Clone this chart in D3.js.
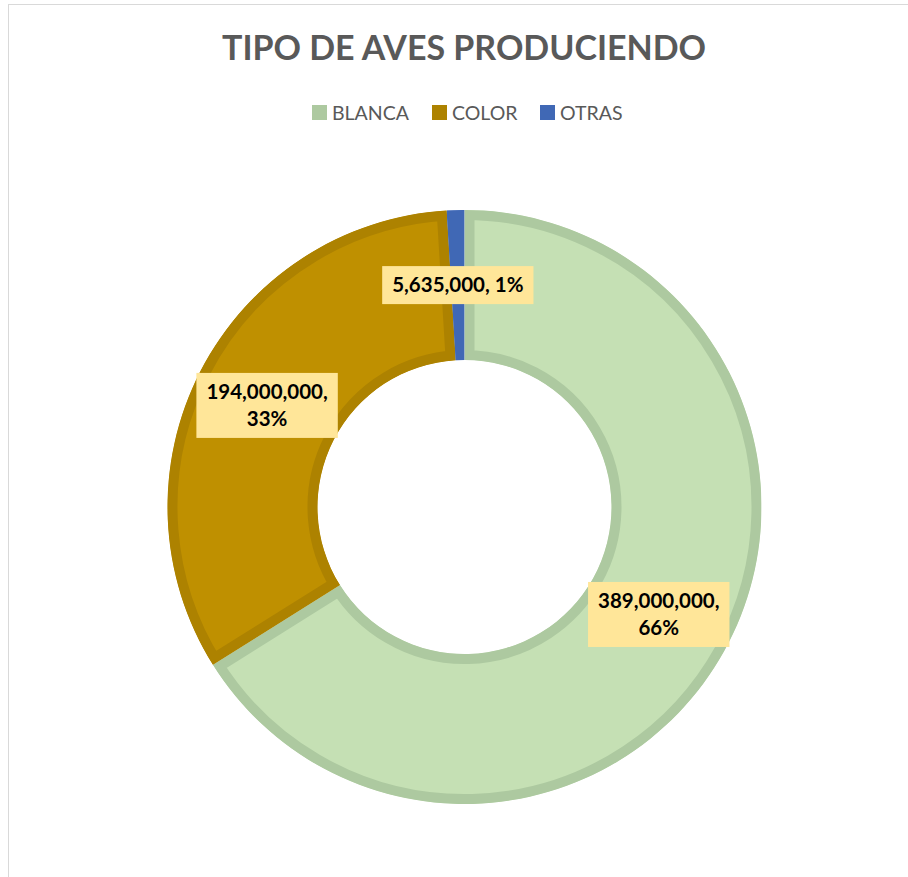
<!DOCTYPE html>
<html>
<head>
<meta charset="utf-8">
<script src="https://cdn.jsdelivr.net/npm/d3@7"></script>
<style>
  html, body { margin: 0; padding: 0; background: #fff; }
  svg { display: block; }
</style>
</head>
<body>
<div id="chart"></div>
<script>
// chart data
const categories = ["BLANCA", "COLOR", "OTRAS"];
const values = [389000000, 194000000, 5635000];
const fills = ["#c5e0b4", "#bf9000", "#4472c4"];
const borders = ["#adc9a0", "#ad8200", "#4068b5"];
const title = "TIPO DE AVES PRODUCIENDO";

const W = 908, H = 877;
const cx = 464.5, cy = 507;
const rOuter = 297, rInner = 147;

const svg = d3.select("#chart").append("svg")
    .attr("width", W)
    .attr("height", H);

// chart area border (only left/top visible)
svg.append("rect")
    .attr("x", 8.5).attr("y", 4.5)
    .attr("width", 1000).attr("height", 1000)
    .attr("fill", "none")
    .attr("stroke", "#d9d9d9")
    .attr("stroke-width", 1);

// title
svg.append("text")
    .attr("x", 464)
    .attr("y", 60)
    .attr("text-anchor", "middle")
    .attr("font-family", "Lato, 'Open Sans', sans-serif")
    .attr("font-weight", "bold")
    .attr("font-size", 34)
    .attr("fill", "#595959")
    .attr("textLength", 484)
    .attr("lengthAdjust", "spacing")
    .text(title);

// legend
const legendX = [312, 432, 540];
const legend = svg.append("g");
categories.forEach((c, i) => {
    legend.append("rect")
        .attr("x", legendX[i]).attr("y", 105)
        .attr("width", 15).attr("height", 15)
        .attr("fill", borders[i]);
    legend.append("text")
        .attr("x", legendX[i] + 20)
        .attr("y", 120)
        .attr("font-family", "Lato, 'Open Sans', sans-serif")
        .attr("font-size", 19.5)
        .attr("fill", "#595959")
        .text(c);
});

// donut
const data = categories.map((c, i) => ({ name: c, value: values[i], i: i }));
const total = d3.sum(values);
const pie = d3.pie().sort(null).value(d => d.value);
const arcs = pie(data);
const arc = d3.arc().innerRadius(rInner).outerRadius(rOuter);

const g = svg.append("g").attr("transform", `translate(${cx},${cy})`);
const defs = svg.append("defs");

arcs.forEach((a, k) => {
    defs.append("clipPath").attr("id", "clip" + k)
        .append("path").attr("d", arc(a));
});

g.selectAll("path.slice")
    .data(arcs)
    .enter().append("path")
    .attr("class", "slice")
    .attr("d", arc)
    .attr("fill", d => fills[d.data.i])
    .attr("stroke", d => borders[d.data.i])
    .attr("stroke-width", 20)
    .attr("stroke-linejoin", "miter")
    .attr("clip-path", (d, k) => `url(#clip${k})`);

// data labels
const fmt = d3.format(",");
const labelArc = d3.arc().innerRadius(rInner).outerRadius(rOuter);
const lineH = 27;

arcs.forEach(a => {
    const pct = Math.round(a.data.value / total * 100) + "%";
    const full = fmt(a.data.value) + ", " + pct;
    const [lx, ly] = labelArc.centroid(a);
    const lg = g.append("g").attr("transform", `translate(${lx},${ly})`);
    const box = lg.append("rect").attr("fill", "#ffe699");
    const txt = lg.append("text")
        .attr("text-anchor", "middle")
        .attr("font-family", "Lato, 'Open Sans', sans-serif")
        .attr("font-weight", "bold")
        .attr("font-size", 20.5)
        .attr("fill", "#000");
    // wrap long labels onto two lines like Excel
    let lines = [full];
    txt.text(full);
    if (txt.node().getComputedTextLength() > 150) {
        lines = [fmt(a.data.value) + ",", pct];
    }
    txt.text(null);
    lines.forEach((l, j) => {
        txt.append("tspan")
            .attr("x", 0)
            .attr("y", (j - (lines.length - 1) / 2) * lineH + 7)
            .text(l);
    });
    const maxW = d3.max(txt.selectAll("tspan").nodes(), n => n.getComputedTextLength());
    const bw = maxW + 20;
    const bh = lines.length * lineH + 11;
    box.attr("x", -bw / 2).attr("y", -bh / 2)
        .attr("width", bw).attr("height", bh);
});
</script>
</body>
</html>
